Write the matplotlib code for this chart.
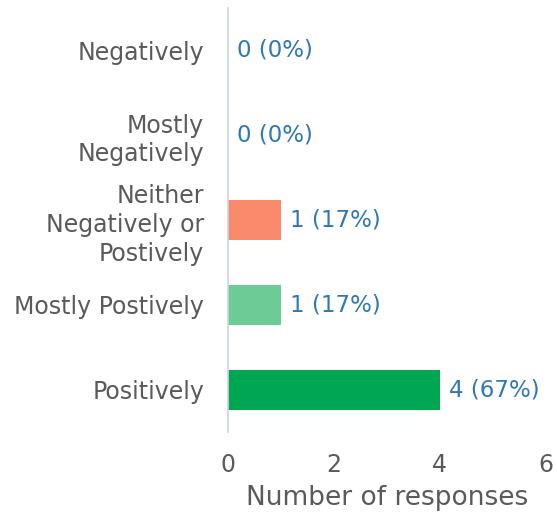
import matplotlib
matplotlib.use("Agg")
import matplotlib.pyplot as plt

categories = ["Negatively", "Mostly\nNegatively", "Neither\nNegatively or\nPostively", "Mostly Postively", "Positively"]
values = [0, 0, 1, 1, 4]
labels = ["0 (0%)", "0 (0%)", "1 (17%)", "1 (17%)", "4 (67%)"]
colors = ["#F98B6C", "#F98B6C", "#F98B6C", "#6DCB95", "#00A651"]
xticks = [0, 2, 4, 6]

plt.rcParams['font.family'] = ['DejaVu Sans']

fig = plt.figure(figsize=(5.57, 5.14), dpi=100)
ax = fig.add_axes([0.409, 0.1595, 0.571, 0.825])

y = list(range(len(categories)))
ax.barh(y, values, height=0.47, color=colors)
ax.set_ylim(len(categories) - 0.5, -0.5)
ax.set_xlim(0, 6)
ax.set_yticks(y)
ax.set_yticklabels(categories, fontsize=17, color="#5A5A5A", linespacing=1.25)
ax.set_xticks(xticks)
ax.set_xticklabels([str(t) for t in xticks], fontsize=17, color="#5A5A5A")
ax.tick_params(axis="both", length=0)
ax.tick_params(axis="y", pad=17)
ax.tick_params(axis="x", pad=15)
ax.set_xlabel("Number of responses", fontsize=19, color="#5A5A5A", labelpad=6)

for s in ["top", "right", "bottom"]:
    ax.spines[s].set_visible(False)
ax.spines["left"].set_color("#C9D6E4")
ax.spines["left"].set_linewidth(1.2)

for yi, v, lab in zip(y, values, labels):
    ax.annotate(lab, xy=(v, yi), xytext=(6.5, 0), textcoords="offset points",
                va="center", ha="left", fontsize=16.5, color="#2E78B7")

fig.savefig("out.png", dpi=100)
